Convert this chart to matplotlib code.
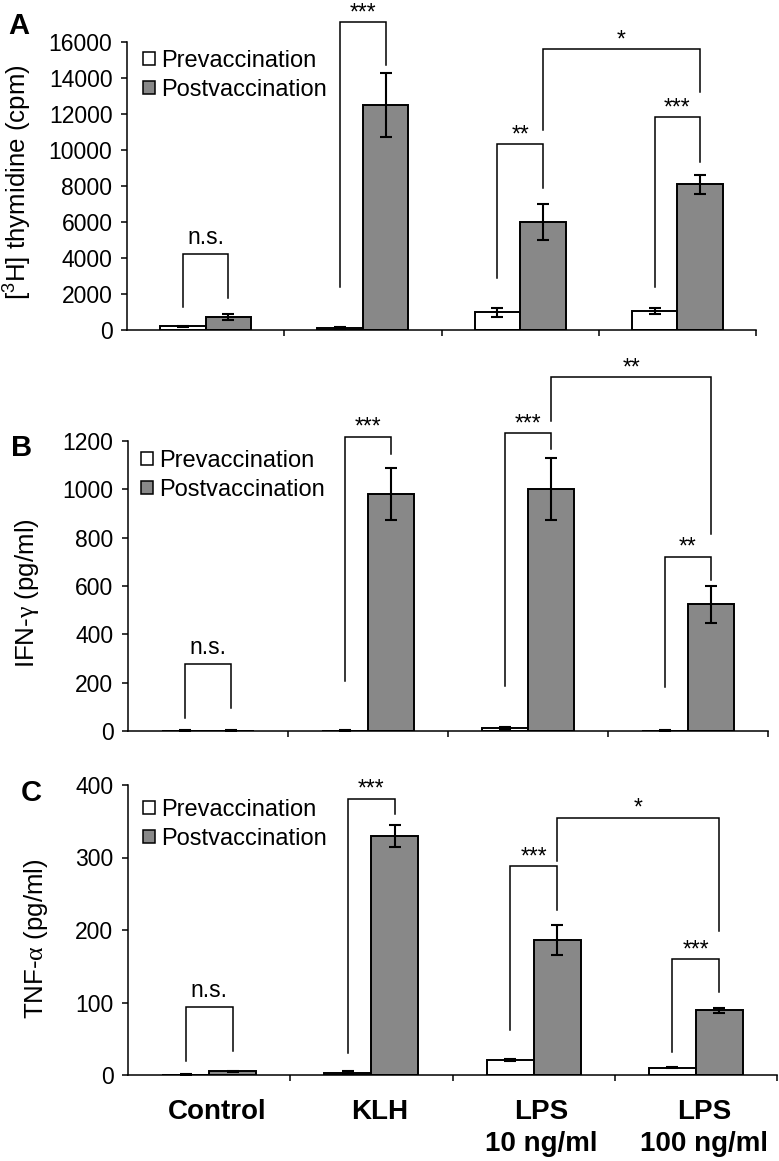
import matplotlib
matplotlib.use('Agg')
import numpy as np
from matplotlib import pyplot as plt
from matplotlib.patches import Patch

plt.rcParams['font.family'] = ['Liberation Sans', 'DejaVu Sans']
plt.rcParams['mathtext.fontset'] = 'custom'
plt.rcParams['mathtext.rm'] = 'Liberation Sans'
plt.rcParams['mathtext.it'] = 'Liberation Sans:italic'
plt.rcParams['mathtext.sf'] = 'Liberation Serif'

# data
categories = ['Control', 'KLH', 'LPS\n10 ng/ml', 'LPS\n100 ng/ml']
series = ['Prevaccination', 'Postvaccination']

# A: [3H] thymidine (cpm)
a_pre = [200, 100, 1000, 1050]
a_pre_err = [50, 50, 250, 150]
a_post = [720, 12500, 6000, 8100]
a_post_err = [150, 1800, 1000, 520]

# B: IFN-gamma (pg/ml)
b_pre = [2, 2, 12, 2]
b_pre_err = [1, 1, 3, 1]
b_post = [2, 980, 1000, 525]
b_post_err = [1, 108, 128, 77]

# C: TNF-alpha (pg/ml)
c_pre = [0.5, 3, 21, 10]
c_pre_err = [0.3, 2, 1.5, 0.5]
c_post = [5, 330, 186, 89]
c_post_err = [1, 15, 21, 3.5]

# significance brackets: (left bar, right bar, top, left leg end, right leg end, label)
# bar given as (category, 0=pre / 1=post)
a_sig = [((0, 0), (0, 1), 4220, 1280, 1780, 'n.s.'),
         ((1, 0), (1, 1), 17100, 2400, 14700, '***'),
         ((2, 0), (2, 1), 10330, 2900, 7870, '**'),
         ((3, 0), (3, 1), 11830, 2390, 9350, '***'),
         ((2, 1), (3, 1), 15600, 11100, 13200, '*')]
b_sig = [((0, 0), (0, 1), 278, 52, 94, 'n.s.'),
         ((1, 0), (1, 1), 1218, 208, 1146, '***'),
         ((2, 0), (2, 1), 1233, 188, 1167, '***'),
         ((3, 0), (3, 1), 722, 183, 623, '**'),
         ((2, 1), (3, 1), 1464, 1283, 816, '**')]
c_sig = [((0, 0), (0, 1), 94, 20, 33, 'n.s.'),
         ((1, 0), (1, 1), 381, 31, 360, '***'),
         ((2, 0), (2, 1), 288, 62, 227, '***'),
         ((3, 0), (3, 1), 160, 32, 114, '***'),
         ((2, 1), (3, 1), 355, 295, 198, '*')]

W, H = 779, 1161
BAR_W = 0.29
GRAY = '#888888'
TICK_FS = 16.5


def px_axes(fig, left, right, top, bottom):
    return fig.add_axes([left / W, 1 - bottom / H, (right - left) / W, (bottom - top) / H])


def draw_panel(ax, pre, pre_err, post, post_err, sig, ymax, ystep, ylabel, label_xy, show_x):
    x = np.arange(len(categories))
    ekw = dict(elinewidth=1.5, capthick=1.5, ecolor='black')
    ax.bar(x - BAR_W / 2, pre, BAR_W, yerr=pre_err, capsize=4.5, color='white',
           edgecolor='black', linewidth=1.4, error_kw=ekw, label=series[0])
    ax.bar(x + BAR_W / 2, post, BAR_W, yerr=post_err, capsize=4.5, color=GRAY,
           edgecolor='black', linewidth=1.4, error_kw=ekw, label=series[1])

    for (c1, s1), (c2, s2), top, l_end, r_end, txt in sig:
        x1 = c1 + (s1 - 0.5) * BAR_W
        x2 = c2 + (s2 - 0.5) * BAR_W
        ax.plot([x1, x1, x2, x2], [l_end, top, top, r_end], color='black',
                linewidth=1.1, clip_on=False, solid_joinstyle='miter')
        off = 7 if txt == 'n.s.' else 2
        ax.annotate(txt, ((x1 + x2) / 2, top), xytext=(0, off), textcoords='offset points',
                    ha='center', va='baseline', fontsize=16.5, annotation_clip=False)

    ax.set_xlim(-0.5, len(categories) - 0.5)
    ax.set_ylim(0, ymax)
    yt = np.arange(0, ymax + 1, ystep)
    ax.set_yticks(yt)
    ax.set_yticklabels([str(int(v)) for v in yt], fontsize=TICK_FS)
    ax.tick_params(axis='y', length=4.5, width=1.1, pad=6)
    ax.set_xticks(np.arange(len(categories)) + 0.5)
    ax.tick_params(axis='x', which='major', length=4.5, width=1.1, labelbottom=False)
    if show_x:
        ax.set_xticks(np.arange(len(categories)) + 0.05, minor=True)
        ax.set_xticklabels(categories, minor=True, fontsize=20, fontweight='bold',
                           linespacing=1.3)
        ax.tick_params(axis='x', which='minor', length=0, pad=17.5)
    for side in ['top', 'right']:
        ax.spines[side].set_visible(False)
    for side in ['left', 'bottom']:
        ax.spines[side].set_linewidth(1.1)
    ax.set_ylabel(ylabel, fontsize=18.6)
    ax.yaxis.set_label_coords(*label_xy)


fig = plt.figure(figsize=(W / 100, H / 100), dpi=100)

ax_a = px_axes(fig, 127, 756, 42, 330)
ax_b = px_axes(fig, 128, 768, 441, 731)
ax_c = px_axes(fig, 128, 777, 785, 1075)

draw_panel(ax_a, a_pre, a_pre_err, a_post, a_post_err, a_sig, 16000, 2000,
           '[$^{3}$H] thymidine (cpm)', ((34 - 127) / 629, 0.512), False)
draw_panel(ax_b, b_pre, b_pre_err, b_post, b_post_err, b_sig, 1200, 200,
           'IFN-$\\mathsf{\\gamma}$ (pg/ml)', ((41 - 128) / 640, 0.476), False)
draw_panel(ax_c, c_pre, c_pre_err, c_post, c_post_err, c_sig, 400, 100,
           'TNF-$\\mathsf{\\alpha}$ (pg/ml)', ((50 - 128) / 649, 0.469), True)

handles = [Patch(facecolor='white', edgecolor='black', linewidth=1.1),
           Patch(facecolor=GRAY, edgecolor='black', linewidth=1.1)]
for ax, (lx, ly) in zip([ax_a, ax_b, ax_c], [(143, 50), (141, 450), (143, 799)]):
    ax.legend(handles, series, loc='upper left', bbox_to_anchor=(lx / W, 1 - ly / H),
              bbox_transform=fig.transFigure, frameon=False, fontsize=17,
              handlelength=0.5, handleheight=0.5, handletextpad=0.25,
              labelspacing=0.3, borderpad=0, borderaxespad=0)

for letter, (lx, ly) in zip('ABC', [(19, 26), (22, 448), (31, 793)]):
    fig.text(lx / W, 1 - ly / H, letter, fontsize=21, fontweight='bold',
             ha='center', va='center')

fig.savefig('out.png', dpi=100)
